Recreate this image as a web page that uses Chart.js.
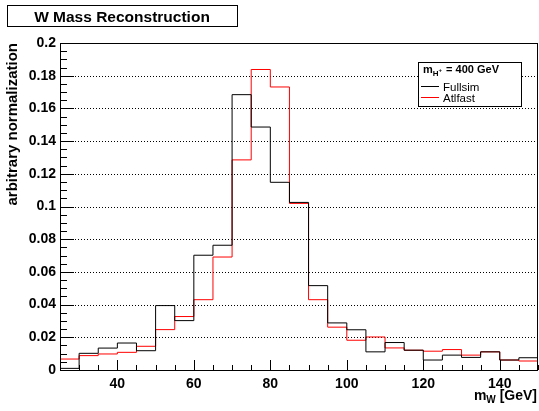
<!DOCTYPE html>
<html>
<head>
<meta charset="utf-8">
<script src="https://cdn.jsdelivr.net/npm/chart.js@4"></script>
<style>
  html, body { margin: 0; padding: 0; background: #fff; }
  #wrap { width: 539px; height: 411px; position: relative; }
</style>
</head>
<body>
<div id="wrap"><canvas id="c" width="539" height="411"></canvas></div>
<script>
// ---- data ----
const binLowEdges = [25, 30, 35, 40, 45, 50, 55, 60, 65, 70, 75, 80, 85, 90, 95, 100, 105, 110, 115, 120, 125, 130, 135, 140, 145];
const binUpperLimit = 150;
const fullsim = [0.0010, 0.0102, 0.0134, 0.0165, 0.0118, 0.0394, 0.0302, 0.0702, 0.0763, 0.1684, 0.1486, 0.1148, 0.1025, 0.0516, 0.0288, 0.0246, 0.0111, 0.0168, 0.0121, 0.0061, 0.0091, 0.0077, 0.0111, 0.0061, 0.0075];
const atlfast = [0.0067, 0.0088, 0.0098, 0.0108, 0.0145, 0.0247, 0.0327, 0.0430, 0.0691, 0.1285, 0.1838, 0.1731, 0.1019, 0.0430, 0.0262, 0.0182, 0.0202, 0.0135, 0.0121, 0.0115, 0.0125, 0.0091, 0.0111, 0.0061, 0.0055];
const xTickValues = [40, 60, 80, 100, 120, 140];
const yTickValues = [0, 0.02, 0.04, 0.06, 0.08, 0.1, 0.12, 0.14, 0.16, 0.18, 0.2];
const yTickLabels = ["0", "0.02", "0.04", "0.06", "0.08", "0.1", "0.12", "0.14", "0.16", "0.18", "0.2"];
const seriesNames = ["Fullsim", "Atlfast"];
const titleText = "W Mass Reconstruction";
const yTitle = "arbitrary normalization";

// step histogram points: left edges + final upper edge
function histPoints(vals) {
  const pts = binLowEdges.map((x, i) => ({ x: x, y: vals[i] }));
  pts.push({ x: binUpperLimit, y: vals[vals.length - 1] });
  return pts;
}

const FONT = "'Liberation Sans', Arial, Helvetica, sans-serif";

const rootPlugin = {
  id: 'rootStyle',
  beforeDatasetsDraw(chart) {
    const ctx = chart.ctx, a = chart.chartArea, ys = chart.scales.y;
    ctx.save();
    ctx.strokeStyle = '#000';
    ctx.lineWidth = 1;
    ctx.setLineDash([1, 2]);
    yTickValues.forEach(v => {
      if (v <= 0 || v >= 0.2) return;
      const y = Math.round(ys.getPixelForValue(v)) + 0.5;
      ctx.beginPath(); ctx.moveTo(a.left, y); ctx.lineTo(a.right, y); ctx.stroke();
    });
    ctx.restore();
  },
  afterDatasetsDraw(chart) {
    const ctx = chart.ctx, a = chart.chartArea, xs = chart.scales.x, ys = chart.scales.y;
    ctx.save();
    ctx.strokeStyle = '#000';
    ctx.lineWidth = 1;
    ctx.setLineDash([]);
    // frame
    ctx.strokeRect(Math.round(a.left) + 0.5, Math.round(a.top) + 0.5,
      Math.round(a.right - a.left) - 1, Math.round(a.bottom - a.top));
    // y ticks (major + minor)
    for (let i = 0; i < yTickValues.length; i++) {
      const v = yTickValues[i];
      const y = Math.round(ys.getPixelForValue(v)) + 0.5;
      ctx.beginPath(); ctx.moveTo(a.left, y); ctx.lineTo(a.left + 14, y); ctx.stroke();
      if (i < yTickValues.length - 1) {
        const step = (yTickValues[i + 1] - v) / 4;
        for (let k = 1; k < 4; k++) {
          const ym = Math.round(ys.getPixelForValue(v + k * step)) + 0.5;
          ctx.beginPath(); ctx.moveTo(a.left, ym); ctx.lineTo(a.left + 7, ym); ctx.stroke();
        }
      }
    }
    // x ticks: minor at every bin edge, major at labelled ticks
    const edges = binLowEdges.concat([binUpperLimit]);
    edges.forEach(v => {
      const x = Math.round(xs.getPixelForValue(v)) + 0.5;
      const major = xTickValues.indexOf(v) >= 0;
      ctx.beginPath(); ctx.moveTo(x, a.bottom); ctx.lineTo(x, a.bottom - (major ? 10 : 5)); ctx.stroke();
    });
    // title box
    ctx.fillStyle = '#fff';
    ctx.fillRect(7.5, 5.5, 230, 21);
    ctx.strokeRect(7.5, 5.5, 230, 21);
    ctx.fillStyle = '#000';
    ctx.font = 'bold 15.5px ' + FONT;
    ctx.textAlign = 'center';
    ctx.textBaseline = 'alphabetic';
    ctx.fillText(titleText, 122, 22);
    // legend
    ctx.fillStyle = '#fff';
    ctx.fillRect(418.5, 62.5, 103, 44);
    ctx.strokeRect(418.5, 62.5, 103, 44);
    ctx.fillStyle = '#000';
    ctx.textAlign = 'left';
    let lx = 423;
    ctx.font = 'bold 11px ' + FONT;
    ctx.fillText('m', lx, 73); lx += ctx.measureText('m').width;
    ctx.font = 'bold 8px ' + FONT;
    ctx.fillText('H', lx, 76); const hw = ctx.measureText('H').width;
    ctx.font = 'bold 6px ' + FONT;
    ctx.fillText('+', lx + hw, 72); lx += hw + ctx.measureText('+').width + 1;
    ctx.font = 'bold 11px ' + FONT;
    ctx.fillText(' = 400 GeV', lx, 73);
    const colors = ['#000000', '#ff0000'];
    const rows = [86.5, 97.5];
    ctx.font = '11.5px ' + FONT;
    seriesNames.forEach((n, i) => {
      ctx.strokeStyle = colors[i];
      ctx.beginPath(); ctx.moveTo(421, rows[i]); ctx.lineTo(439, rows[i]); ctx.stroke();
      ctx.fillStyle = '#000';
      ctx.fillText(n, 443, rows[i] + 4);
    });
    // x title with subscript, right aligned
    ctx.fillStyle = '#000';
    ctx.font = 'bold 14px ' + FONT;
    const wm = ctx.measureText('m').width;
    const wrest = ctx.measureText(' [GeV]').width;
    ctx.font = 'bold 10px ' + FONT;
    const wW = ctx.measureText('W').width;
    let tx = 537 - wm - wW - wrest;
    ctx.font = 'bold 14px ' + FONT;
    ctx.fillText('m', tx, 400); tx += wm;
    ctx.font = 'bold 10px ' + FONT;
    ctx.fillText('W', tx, 403); tx += wW;
    ctx.font = 'bold 14px ' + FONT;
    ctx.fillText(' [GeV]', tx, 400);
    ctx.restore();
  }
};

new Chart(document.getElementById('c'), {
  type: 'line',
  data: {
    datasets: [
      { label: seriesNames[0], data: histPoints(fullsim), borderColor: '#000000', borderWidth: 1, stepped: 'before', pointRadius: 0, fill: false },
      { label: seriesNames[1], data: histPoints(atlfast), borderColor: '#ff0000', borderWidth: 1, stepped: 'before', pointRadius: 0, fill: false }
    ]
  },
  options: {
    responsive: false,
    animation: false,
    layout: { padding: { left: 0, right: 1, top: 43, bottom: 0 } },
    plugins: { legend: { display: false }, tooltip: { enabled: false }, title: { display: false } },
    scales: {
      x: {
        type: 'linear', min: 25, max: 150,
        grid: { display: false, drawTicks: false },
        border: { display: false },
        afterBuildTicks: s => { s.ticks = xTickValues.map(v => ({ value: v })); },
        afterFit: s => { s.height = 41; },
        ticks: { color: '#000', padding: 6, maxRotation: 0, font: { family: FONT, size: 14, weight: 'bold' } }
      },
      y: {
        type: 'linear', min: 0, max: 0.2,
        grid: { display: false, drawTicks: false },
        border: { display: false },
        afterBuildTicks: s => { s.ticks = yTickValues.map(v => ({ value: v })); },
        afterFit: s => { s.width = 60; },
        ticks: {
          color: '#000', padding: 4,
          font: { family: FONT, size: 14, weight: 'bold' },
          callback: (v) => { const i = yTickValues.indexOf(v); return i >= 0 ? yTickLabels[i] : ''; }
        },
        title: { display: true, text: yTitle, align: 'end', color: '#000', padding: { top: 4, bottom: 4 },
          font: { family: FONT, size: 15, weight: 'bold' } }
      }
    }
  },
  plugins: [rootPlugin]
});
</script>
</body>
</html>
